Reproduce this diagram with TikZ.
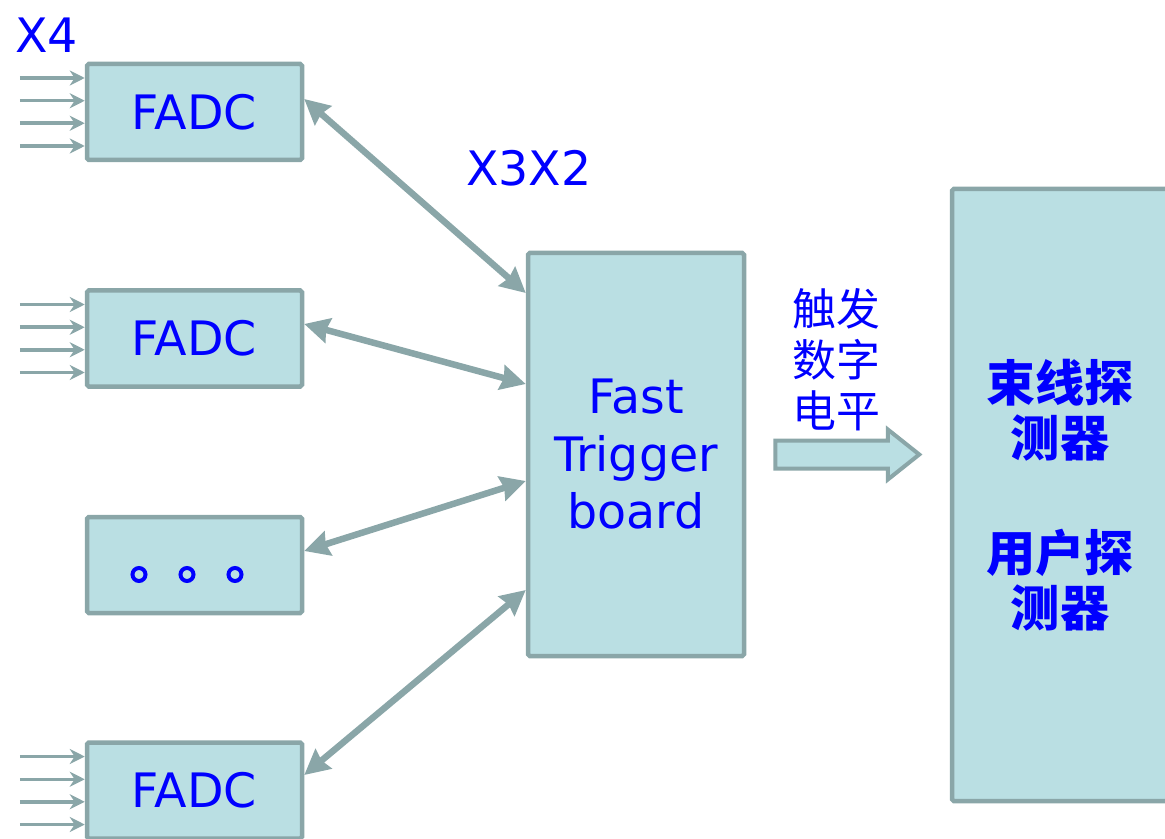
\documentclass[tikz,border=0pt]{standalone}
\usepackage{fontspec}
\setmainfont{DejaVu Sans}
\newfontfamily\cjk{Noto Sans CJK SC}
\usetikzlibrary{arrows.meta,positioning,calc,shapes.arrows}
\definecolor{edgegray}{HTML}{8AA6A8}
\definecolor{boxfill}{HTML}{BADFE3}
\definecolor{sigblue}{HTML}{0000FF}
\newcommand{\bigtext}{\fontsize{27}{32.7}\selectfont}
\newcommand{\cjkmid}{\cjk\fontsize{25}{29}\selectfont}
\newcommand{\cjkbig}{\cjk\bfseries\fontsize{28}{31.3}\selectfont}

\begin{document}
\begin{tikzpicture}[
  >=Stealth, font=\bigtext, text=sigblue,
  box/.style={draw=edgegray, fill=boxfill, line width=0.09cm, rounded corners=1pt, align=center, minimum width=4.3cm, minimum height=1.92cm},
  link/.style={{Stealth[length=0.5cm,width=0.5cm,inset=0.05cm]}-{Stealth[length=0.5cm,width=0.5cm,inset=0.05cm]}, draw=edgegray, line width=0.13cm},
  feed/.style={-{Stealth[length=0.3cm,width=0.3cm]}, draw=edgegray, line width=0.07cm},
  ring/.style={draw=sigblue, line width=0.08cm},
  sigarrow/.style={single arrow, draw=edgegray, fill=boxfill, line width=0.08cm, inner xsep=0pt, inner ysep=0.24cm, minimum height=2.88cm, single arrow head extend=0.22cm, single arrow tip angle=77}]
  \useasboundingbox (0,0) rectangle (23.3,-16.78);
  % FADC column
  \node[box] (fadc1) at (3.89,-2.24) {FADC};
  \node[box, below=2.52cm of fadc1] (fadc2) {FADC};
  \node[box, below=2.52cm of fadc2] (more) {};
  \node[box, below=2.5cm of more] (fadc4) {FADC};
  \foreach \dx in {-1.11,-0.15,0.81}
    \draw[ring] ($(more.center)+(\dx,-0.19)$) circle (0.13cm);
  \foreach \f in {fadc1,fadc2,fadc4}
    \foreach \dy in {0.68,0.225,-0.225,-0.68}
      \draw[feed] ([shift={(-1.3,\dy)}]\f.west) -- ([yshift=\dy cm]\f.west);
  \node (x4) at (0.93,-0.70) {X4};
  % trigger board
  \node[box, minimum width=4.32cm, minimum height=8.06cm] (ftb) at (12.72,-9.09) {Fast\\Trigger\\board};
  \node (x3x2) at (10.58,-3.36) {X3X2};
  \draw[link] ([yshift=0.26cm]fadc1.east) -- ([yshift=3.23cm]ftb.west);
  \draw[link] ([yshift=0.29cm]fadc2.east) -- ([yshift=1.41cm]ftb.west);
  \draw[link] ([yshift=0.28cm]more.east) -- ([yshift=-0.53cm]ftb.west);
  \draw[link] ([yshift=0.31cm]fadc4.east) -- ([yshift=-2.71cm]ftb.west);
  % output level
  \node[sigarrow, right=0.54cm of ftb] (level) {};
  \node[font=\cjkmid, align=center, above=0.02cm of level, xshift=-0.04cm] (leveltext) {触发\\数字\\电平};
  \node[box, minimum width=4.32cm, minimum height=12.24cm, font=\cjkbig] (det) at (21.2,-9.9) {束线探\\测器\\[1.2cm]用户探\\测器};
\end{tikzpicture}
\end{document}
